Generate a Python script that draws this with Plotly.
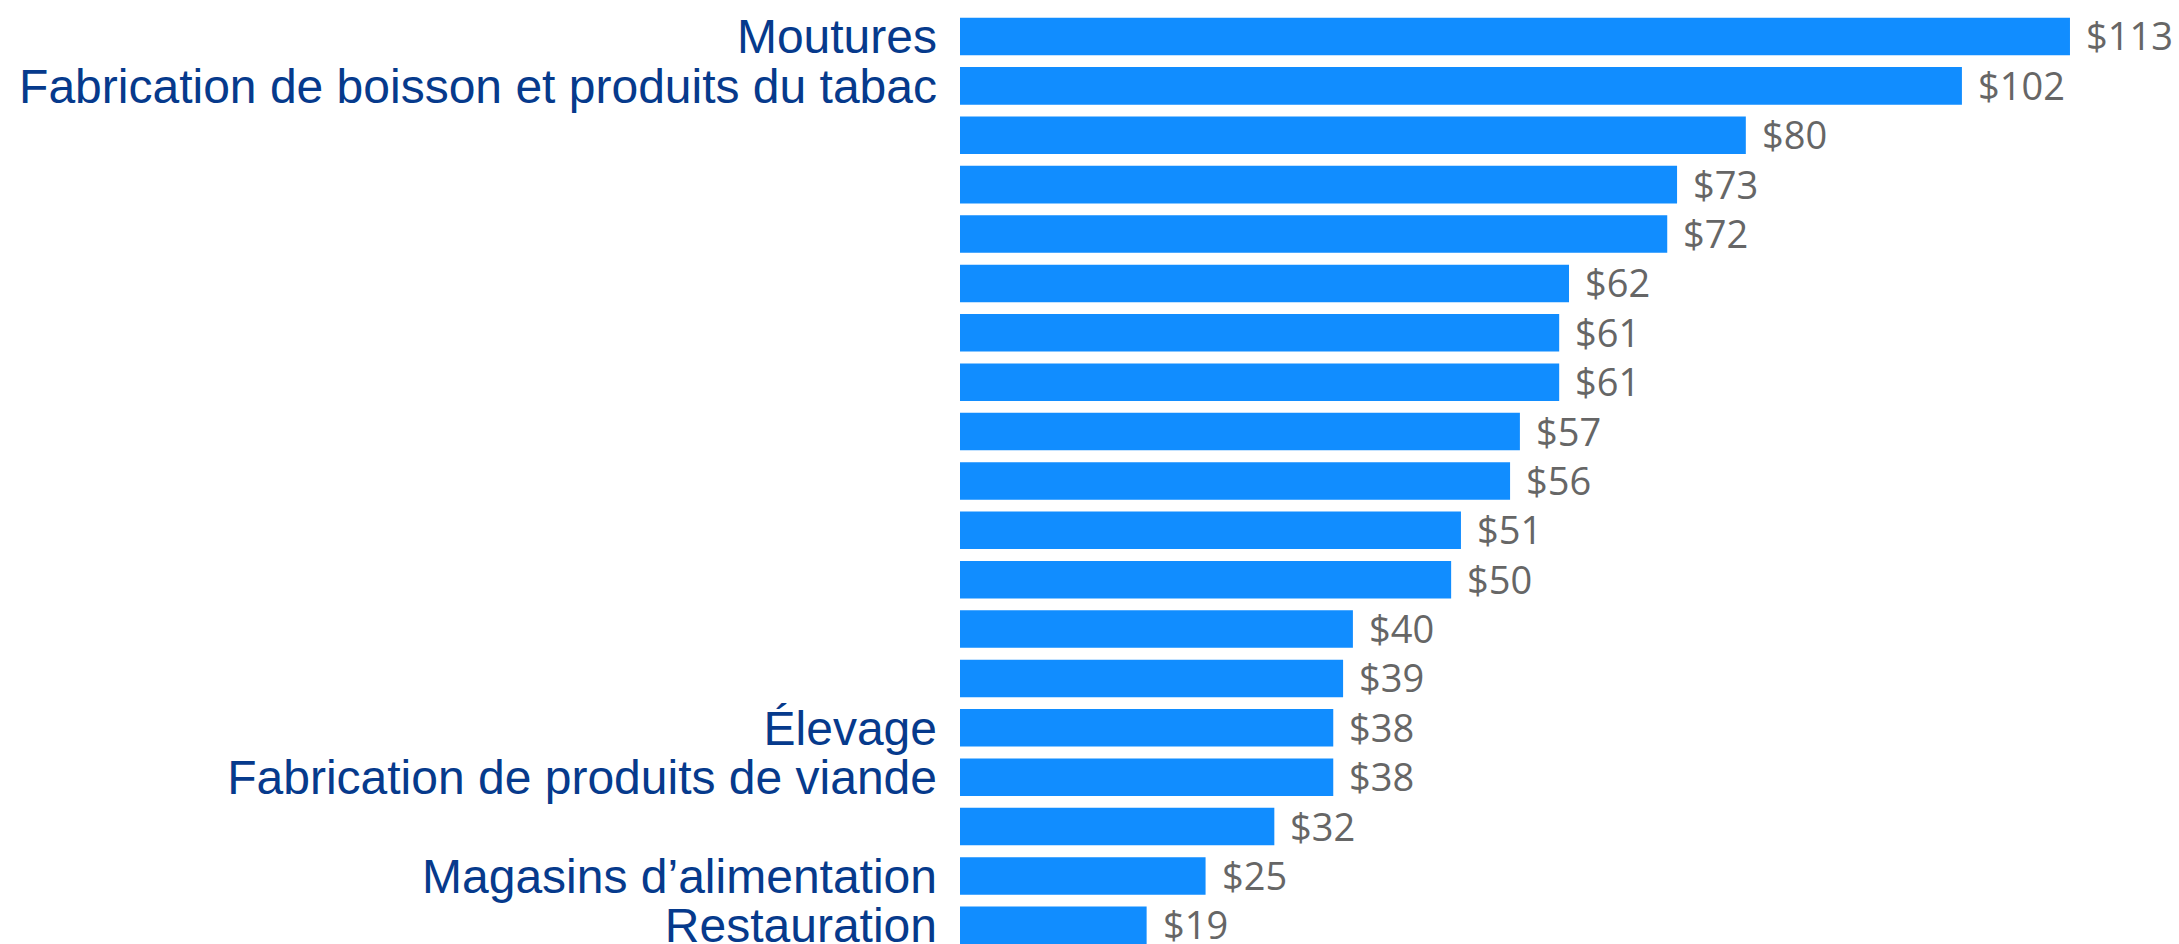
import plotly.graph_objects as go

tick_labels = [
    "Moutures",
    "Fabrication de boisson et produits du tabac",
    "", "", "", "", "", "", "", "", "", "", "", "",
    "Élevage",
    "Fabrication de produits de viande",
    "",
    "Magasins d’alimentation",
    "Restauration",
]
values = [113, 102, 80, 73, 72, 62, 61, 61, 57, 56, 51, 50, 40, 39, 38, 38, 32, 25, 19]
value_labels = ["$" + str(v) for v in values]
positions = list(range(len(values)))

fig = go.Figure()
fig.add_trace(go.Bar(
    x=values,
    y=positions,
    orientation="h",
    marker=dict(color="#118DFF", line=dict(width=0)),
    hoverinfo="skip",
))

for x, y, t in zip(values, positions, value_labels):
    fig.add_annotation(
        x=x, y=y, text=t, showarrow=False,
        xanchor="left", yanchor="middle", xshift=14, yshift=1,
        font=dict(family="Open Sans", size=38, color="#666666"),
    )

fig.update_layout(
    width=2179, height=944,
    margin=dict(l=960, r=0, t=0, b=0, autoexpand=False),
    paper_bgcolor="white", plot_bgcolor="white",
    bargap=0.24,
    showlegend=False,
    xaxis=dict(range=[0, 124.1], visible=False, fixedrange=True, automargin=False),
    yaxis=dict(
        range=[18.378, -0.739],
        tickmode="array",
        tickvals=positions,
        ticktext=tick_labels,
        showgrid=False, zeroline=False, showline=False,
        ticks="",
        ticklabelstandoff=22,
        ticklabeloverflow="allow",
        automargin=False,
        tickfont=dict(family="Liberation Sans", size=48, color="#063A8C"),
        fixedrange=True,
    ),
)

fig.write_html("out.html", config={"displayModeBar": False},
               post_script="document.body.style.margin='0';")
